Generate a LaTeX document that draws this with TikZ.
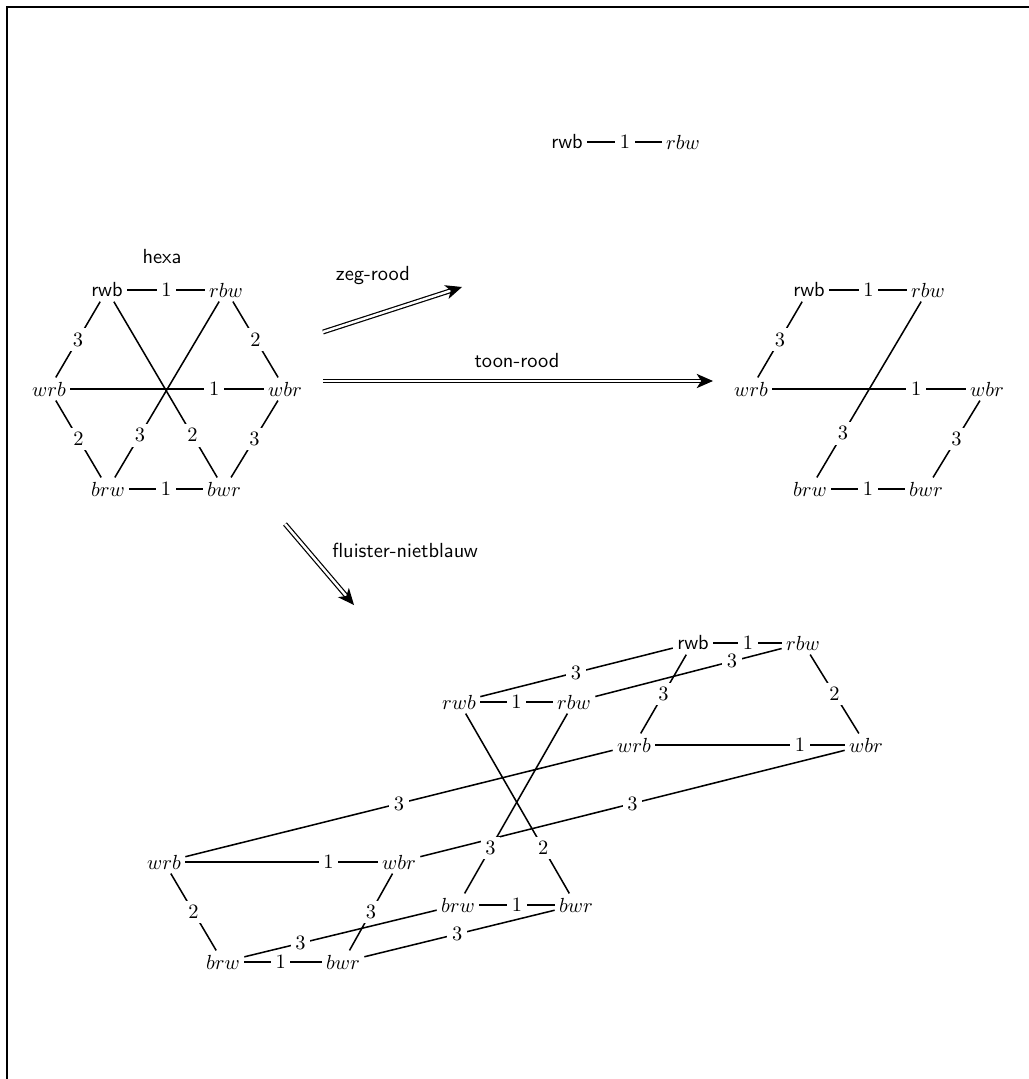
\documentclass[tikz,border=0pt]{standalone}
\usetikzlibrary{arrows.meta,calc}
\begin{document}
\begin{tikzpicture}[x=0.49pt,y=-0.49pt,
  v/.style={inner sep=2pt},
  lbl/.style={fill=white,inner sep=2.3pt},
  edge/.style={line width=0.75pt},
  ttl/.style={font=\sffamily},
  dbl/.style={double,line width=0.6pt,double distance=1.2pt,
    -{Stealth[length=8pt,width=7pt,inset=2.2pt]}}]
\useasboundingbox (0,0) rectangle (1029,1079);
\draw[line width=0.6pt] (7,1079) -- (7,7) -- (1029,7);

% ---------- lone edge at top ----------
\node[v] (t1) at (567,142) {\textsf{rwb}};
\node[v] (t2) at (683,142) {$rbw$};
\draw[edge] (t1) -- (t2);
\node[lbl] at ($(t1)!0.5!(t2)$) {$1$};

% ---------- hexa ----------
\node[ttl] (hexa) at (162,257) {hexa};
\node[v] (h1) at (107,290) {\textsf{rwb}};
\node[v] (h2) at (226,290) {$rbw$};
\node[v] (h3) at (49,389) {$wrb$};
\node[v] (h4) at (285,389) {$wbr$};
\node[v] (h5) at (108,489) {$brw$};
\node[v] (h6) at (224,489) {$bwr$};
\draw[edge] (h1) -- (h2);
\draw[edge] (h1) -- (h3);
\draw[edge] (h2) -- (h4);
\draw[edge] (h3) -- (h4);
\draw[edge] (h3) -- (h5);
\draw[edge] (h4) -- (h6);
\draw[edge] (h5) -- (h6);
\draw[edge] (h1) -- (h6);
\draw[edge] (h2) -- (h5);
\node[lbl] at ($(h1)!0.5!(h2)$) {$1$};
\node[lbl] at ($(h1)!0.5!(h3)$) {$3$};
\node[lbl] at ($(h2)!0.5!(h4)$) {$2$};
\node[lbl] at ($(h3)!0.70!(h4)$) {$1$};
\node[lbl] at ($(h3)!0.5!(h5)$) {$2$};
\node[lbl] at ($(h4)!0.5!(h6)$) {$3$};
\node[lbl] at ($(h5)!0.5!(h6)$) {$1$};
\node[lbl] at ($(h1)!0.73!(h6)$) {$2$};
\node[lbl] at ($(h2)!0.73!(h5)$) {$3$};

% ---------- right graph (toon-rood) ----------
\node[v] (r1) at (809,290) {\textsf{rwb}};
\node[v] (r2) at (928,290) {$rbw$};
\node[v] (r3) at (751,389) {$wrb$};
\node[v] (r4) at (987,389) {$wbr$};
\node[v] (r5) at (810,489) {$brw$};
\node[v] (r6) at (926,489) {$bwr$};
\draw[edge] (r1) -- (r2);
\draw[edge] (r1) -- (r3);
\draw[edge] (r3) -- (r4);
\draw[edge] (r4) -- (r6);
\draw[edge] (r5) -- (r6);
\draw[edge] (r2) -- (r5);
\node[lbl] at ($(r1)!0.5!(r2)$) {$1$};
\node[lbl] at ($(r1)!0.5!(r3)$) {$3$};
\node[lbl] at ($(r3)!0.70!(r4)$) {$1$};
\node[lbl] at ($(r4)!0.5!(r6)$) {$3$};
\node[lbl] at ($(r5)!0.5!(r6)$) {$1$};
\node[lbl] at ($(r2)!0.72!(r5)$) {$3$};

% ---------- arrows ----------
\coordinate (a1s) at (323,332);
\coordinate (a1e) at (462,287);
\coordinate (a2s) at (323,381);
\coordinate (a2e) at (713,381);
\coordinate (a3s) at (285,524);
\coordinate (a3e) at (354,605);
\draw[dbl] (a1s) -- (a1e);
\draw[dbl] (a2s) -- (a2e);
\draw[dbl] (a3s) -- (a3e);
\node[ttl] (zeg) at (373,276) {zeg-rood};
\node[ttl] (toon) at (517,361) {toon-rood};
\node[ttl] (flu) at (405,550) {fluister-nietblauw};

% ---------- bottom graph (fluister-nietblauw) ----------
\node[v] (b1) at (693,643) {\textsf{rwb}};
\node[v] (b2) at (803,643) {$rbw$};
\node[v] (b3) at (634,745) {$wrb$};
\node[v] (b4) at (866,745) {$wbr$};
\node[v] (b5) at (458,905) {$brw$};
\node[v] (b6) at (576,905) {$bwr$};
\node[v] (f1) at (459,702) {$rwb$};
\node[v] (f2) at (574,702) {$rbw$};
\node[v] (f3) at (164,862) {$wrb$};
\node[v] (f4) at (399,862) {$wbr$};
\node[v] (f5) at (223,962) {$brw$};
\node[v] (f6) at (343,962) {$bwr$};
\draw[edge] (b1) -- (b2);
\draw[edge] (b1) -- (b3);
\draw[edge] (b2) -- (b4);
\draw[edge] (b3) -- (b4);
\draw[edge] (b5) -- (b6);
\draw[edge] (f1) -- (f2);
\draw[edge] (f3) -- (f4);
\draw[edge] (f3) -- (f5);
\draw[edge] (f4) -- (f6);
\draw[edge] (f5) -- (f6);
\draw[edge] (b1) -- (f1);
\draw[edge] (b2) -- (f2);
\draw[edge] (b3) -- (f3);
\draw[edge] (b4) -- (f4);
\draw[edge] (b5) -- (f5);
\draw[edge] (b6) -- (f6);
\draw[edge] (f1) -- (b6);
\draw[edge] (f2) -- (b5);
\node[lbl] at ($(b1)!0.5!(b2)$) {$1$};
\node[lbl] at ($(b1)!0.5!(b3)$) {$3$};
\node[lbl] at ($(b2)!0.5!(b4)$) {$2$};
\node[lbl] at ($(b3)!0.715!(b4)$) {$1$};
\node[lbl] at ($(b5)!0.5!(b6)$) {$1$};
\node[lbl] at ($(f1)!0.5!(f2)$) {$1$};
\node[lbl] at ($(f3)!0.70!(f4)$) {$1$};
\node[lbl] at ($(f3)!0.5!(f5)$) {$2$};
\node[lbl] at ($(f4)!0.5!(f6)$) {$3$};
\node[lbl] at ($(f5)!0.48!(f6)$) {$1$};
\node[lbl] at ($(b1)!0.5!(f1)$) {$3$};
\node[lbl] at ($(b2)!0.31!(f2)$) {$3$};
\node[lbl] at ($(b3)!0.5!(f3)$) {$3$};
\node[lbl] at ($(b4)!0.5!(f4)$) {$3$};
\node[lbl] at ($(b5)!0.67!(f5)$) {$3$};
\node[lbl] at ($(b6)!0.51!(f6)$) {$3$};
\node[lbl] at ($(f1)!0.72!(b6)$) {$2$};
\node[lbl] at ($(f2)!0.72!(b5)$) {$3$};
\end{tikzpicture}
\end{document}
